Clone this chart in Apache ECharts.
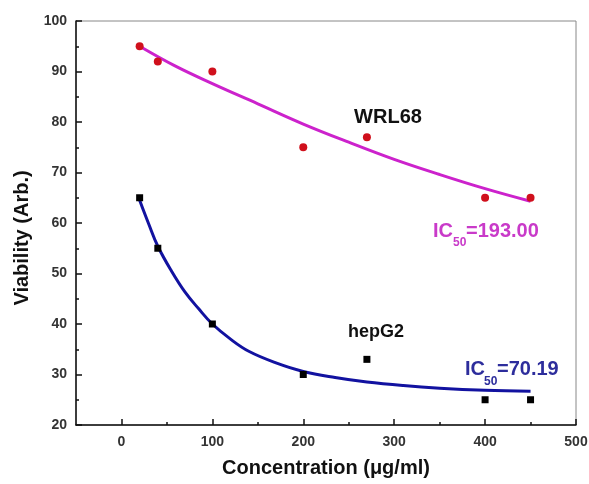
<!DOCTYPE html>
<html>
<head>
<meta charset="utf-8">
<script src="https://cdn.jsdelivr.net/npm/echarts@6/dist/echarts.min.js"></script>
<style>
  html, body { margin: 0; padding: 0; background: #fff; }
  #chart { width: 589px; height: 484px; }
</style>
</head>
<body>
<div id="chart"></div>
<script>
// measured points
const concX = [20, 40, 100, 200, 270, 400, 450];
const wrl68Y = [95, 92, 90, 75, 77, 65, 65];
const hepg2Y = [65, 55, 40, 30, 33, 25, 25];

// fitted curves
const wrlFitX = [20, 60, 100, 150, 200, 250, 300, 350, 400, 450];
const wrlFitY = [95.0, 91.0, 87.6, 83.6, 79.6, 76.0, 72.6, 69.6, 66.8, 64.3];
const hepFitX = [20, 30, 40, 55, 70, 85, 100, 120, 140, 170, 200, 235, 270, 310, 350, 400, 450];
const hepFitY = [64.5, 59.8, 55.4, 50.5, 46.3, 43.0, 40.0, 37.0, 34.6, 32.3, 30.6, 29.4, 28.5, 27.8, 27.3, 26.9, 26.7];

// axis ticks
const xMajor = [0, 100, 200, 300, 400, 500];
const xMinor = [50, 150, 250, 350, 450];

const font = '"Liberation Sans", Arial, sans-serif';
const zip = (xs, ys) => xs.map((x, i) => [x, ys[i]]);

// simple bold text element
const txt = (text, x, y, size, color, align) => ({
    type: 'text', x: x, y: y,
    style: { text: text, fontFamily: font, fontWeight: 'bold', fontSize: size, fill: color, align: align || 'left', verticalAlign: 'middle' }
});

const magenta = '#c93ac9';
const navy = '#2d2d9c';

const myChart = echarts.init(document.getElementById('chart'));

let option = {
    animation: false,
    grid: {
        left: 76, right: 13, top: 21, bottom: 59,
        outerBoundsMode: 'none', containLabel: false,
        show: true, borderColor: '#888', borderWidth: 1
    },
    xAxis: [{
        type: 'value', min: -50, max: 500, position: 'bottom',
        name: 'Concentration (μg/ml)',
        nameLocation: 'middle', nameGap: 33,
        nameTextStyle: { fontFamily: font, fontWeight: 'bold', fontSize: 20, color: '#111' },
        axisLine: { onZero: false, lineStyle: { color: '#111', width: 1.5 } },
        axisTick: { inside: true, length: 6, customValues: xMajor, lineStyle: { color: '#111', width: 1.5 } },
        axisLabel: { customValues: xMajor, fontFamily: font, fontWeight: 'bold', fontSize: 14, color: '#333', margin: 10 },
        splitLine: { show: false }
    }, {
        type: 'value', min: -50, max: 500, position: 'bottom',
        axisLine: { show: false, onZero: false },
        axisTick: { inside: true, length: 3, customValues: xMinor, lineStyle: { color: '#111', width: 1.5 } },
        axisLabel: { show: false },
        splitLine: { show: false }
    }],
    yAxis: {
        type: 'value', min: 20, max: 100, interval: 10,
        axisLine: { show: true, onZero: false, lineStyle: { color: '#111', width: 1.5 } },
        axisTick: { inside: true, length: 6, lineStyle: { color: '#111', width: 1.5 } },
        minorTick: { show: true, splitNumber: 2, length: 3, lineStyle: { color: '#111', width: 1.5 } },
        axisLabel: { fontFamily: font, fontWeight: 'bold', fontSize: 14, color: '#333', margin: 9 },
        splitLine: { show: false }
    },
    graphic: [
        {
            type: 'text', x: 22, y: 238, rotation: Math.PI / 2,
            style: { text: 'Viability (Arb.)', fontFamily: font, fontWeight: 'bold', fontSize: 20, fill: '#111', align: 'center', verticalAlign: 'middle' }
        },
        txt('WRL68', 388, 117, 20, '#111', 'center'),
        txt('hepG2', 376, 332, 18, '#111', 'center'),
        // IC50 = 193.00
        txt('IC', 433, 231, 20, magenta),
        txt('50', 453, 243, 12, magenta),
        txt('=193.00', 466, 231, 20, magenta),
        // IC50 = 70.19
        txt('IC', 465, 369, 20, navy),
        txt('50', 484, 382, 12, navy),
        txt('=70.19', 497, 369, 20, navy)
    ],
    series: [
        {
            name: 'WRL68 fit', type: 'line', smooth: 0.4, showSymbol: false,
            lineStyle: { color: '#cc22cc', width: 3 },
            data: zip(wrlFitX, wrlFitY), z: 2
        },
        {
            name: 'hepG2 fit', type: 'line', smooth: 0.4, showSymbol: false,
            lineStyle: { color: '#1212a0', width: 3 },
            data: zip(hepFitX, hepFitY), z: 2
        },
        {
            name: 'WRL68', type: 'scatter', symbol: 'circle', symbolSize: 8,
            itemStyle: { color: '#d0101c', opacity: 1 },
            data: zip(concX, wrl68Y), z: 3
        },
        {
            name: 'hepG2', type: 'scatter', symbol: 'rect', symbolSize: 7,
            itemStyle: { color: '#000', opacity: 1 },
            data: zip(concX, hepg2Y), z: 3
        }
    ]
};

myChart.setOption(option);
</script>
</body>
</html>
